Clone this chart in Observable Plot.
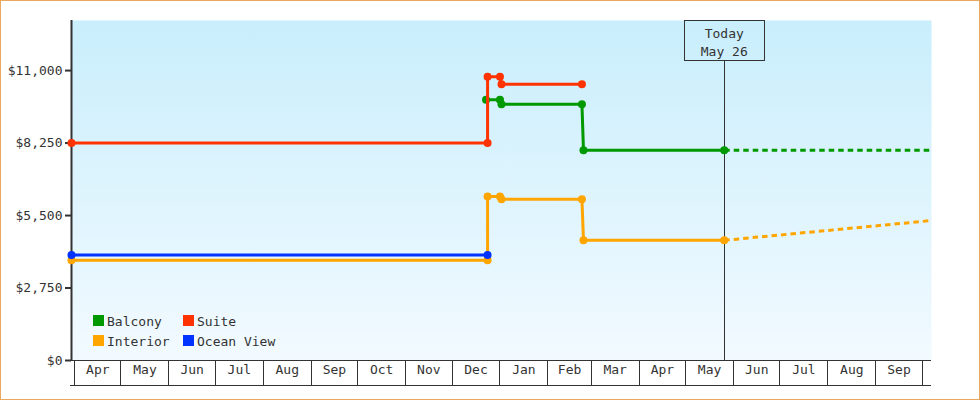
<!DOCTYPE html>
<html>
<head>
<meta charset="utf-8">
<script src="https://cdn.jsdelivr.net/npm/d3@7"></script>
<script src="https://cdn.jsdelivr.net/npm/@observablehq/plot@0.6"></script>
<style>
  body { margin: 0; background: #fff; }
  #wrap { position: relative; width: 980px; height: 400px; font-family: "DejaVu Sans Mono", monospace; color: #333; }
  #border { position: absolute; left: 0; top: 0; width: 980px; height: 400px; box-sizing: border-box; border: 1px solid #e8a860; pointer-events: none; }
  .item { position: absolute; height: 13px; font-size: 13px; line-height: 13px; white-space: nowrap; }
  .sw { position: absolute; left: 0; top: 0; width: 11px; height: 11px; }
  .lab { position: absolute; left: 14px; top: 0; }
  #chart svg { display: block; }
</style>
</head>
<body>
<div id="wrap"><div id="chart"></div><div id="legend"></div><div id="border"></div></div>
<script>
// ---- data ----
const seriesNames = ["Balcony", "Suite", "Interior", "Ocean View"];
const seriesColors = ["#009900", "#ff3300", "#ffa500", "#0033ff"];

const balconyDates  = ["2022-12-23", "2023-01-01", "2023-01-02", "2023-02-23", "2023-02-24", "2023-05-26"];
const balconyPrices = [9890, 9890, 9720, 9720, 7980, 7980];

const suiteDates  = ["2022-03-30", "2022-12-24", "2022-12-24", "2023-01-01", "2023-01-02", "2023-02-23"];
const suitePrices = [8250, 8250, 10770, 10770, 10480, 10480];

const interiorDates  = ["2022-03-30", "2022-12-24", "2022-12-24", "2023-01-01", "2023-01-02", "2023-02-23", "2023-02-24", "2023-05-26"];
const interiorPrices = [3800, 3800, 6220, 6220, 6120, 6120, 4560, 4560];

const oceanDates  = ["2022-03-30", "2022-12-24"];
const oceanPrices = [4000, 4000];

// projections (dashed)
const balconyProjDates  = ["2023-05-26", "2023-10-07"];
const balconyProjPrices = [7980, 7980];
const interiorProjDates  = ["2023-05-26", "2023-10-07"];
const interiorProjPrices = [4560, 5310];

const yTicks = [0, 2750, 5500, 8250, 11000];
const monthLabels = ["Apr","May","Jun","Jul","Aug","Sep","Oct","Nov","Dec","Jan","Feb","Mar","Apr","May","Jun","Jul","Aug","Sep"];
const axisStart = "2022-04-01";
const xDomain = ["2022-03-30", "2023-10-07"];
const yMax = 12900;
const todayDate = "2023-05-26";

// ---- layout ----
const W = 980, H = 400;
const mL = 71, mR = 49, mT = 20, mB = 40;
const axisBand = 25;

const rows = (dates, prices) => dates.map((d, i) => ({date: new Date(d), price: prices[i]}));
const balcony = rows(balconyDates, balconyPrices);
const suite = rows(suiteDates, suitePrices);
const interior = rows(interiorDates, interiorPrices);
const ocean = rows(oceanDates, oceanPrices);
const balconyProj = rows(balconyProjDates, balconyProjPrices);
const interiorProj = rows(interiorProjDates, interiorProjPrices);
const today = new Date(todayDate);

const start = new Date(axisStart);
const monthStarts = d3.utcMonth.range(start, d3.utcMonth.offset(start, monthLabels.length + 1));
const monthCells = monthLabels.map((label, i) => ({label, mid: new Date((+monthStarts[i] + +monthStarts[i + 1]) / 2)}));

const col = name => seriesColors[seriesNames.indexOf(name)];
const series = [
  ["Balcony", balcony],
  ["Interior", interior],
  ["Ocean View", ocean],
  ["Suite", suite]
];

const marks = [
  Plot.frame({fill: "#cbeffc"}),
  Plot.ruleX([today], {x: d => d, stroke: "#333", strokeWidth: 1, shapeRendering: "crispEdges"}),
  Plot.ruleY([0], {stroke: "#333", strokeWidth: 1, shapeRendering: "crispEdges"}),
  Plot.axisX(monthStarts, {tickSize: axisBand, tickFormat: () => "", stroke: "#333", label: null, shapeRendering: "crispEdges"}),
  Plot.text(monthCells, {x: "mid", text: "label", frameAnchor: "bottom", dy: 13, fill: "#333", fontSize: 13}),
  Plot.axisY(yTicks, {tickSize: 6, tickPadding: 3, strokeWidth: 2, stroke: "#333", fill: "#333", fontSize: 13,
    tickFormat: d => "$" + d3.format(",")(d), label: null}),
  Plot.ruleX([new Date(xDomain[0])], {x: d => d, stroke: "#333", strokeWidth: 2})
];

marks.push(
  Plot.line(balconyProj, {x: "date", y: "price", stroke: col("Balcony"), strokeWidth: 3, strokeDasharray: "5.5,4", strokeLinecap: "butt"}),
  Plot.line(interiorProj, {x: "date", y: "price", stroke: col("Interior"), strokeWidth: 3, strokeDasharray: "5.5,4", strokeLinecap: "butt"})
);
for (const [name, data] of series) {
  marks.push(Plot.line(data, {x: "date", y: "price", stroke: col(name), strokeWidth: 3}));
  marks.push(Plot.dot(data, {x: "date", y: "price", fill: col(name), r: 4}));
}
const fmt = d3.utcFormat("%b %-d");
marks.push(Plot.text([today], {x: d => d, frameAnchor: "top", text: d => "Today\n" + fmt(d),
  lineAnchor: "top", dy: 4.4, lineHeight: 18 / 13, fill: "#333", fontSize: 13}));

const chart = Plot.plot({
  width: W, height: H,
  marginLeft: mL, marginRight: mR, marginTop: mT, marginBottom: mB,
  style: {fontFamily: '"DejaVu Sans Mono", monospace', fontSize: "13px", color: "#333", background: "transparent"},
  x: {type: "utc", domain: xDomain.map(d => new Date(d)), axis: null, label: null},
  y: {domain: [0, yMax], axis: null, label: null},
  marks
});

const svg = d3.select(chart);
const defs = svg.insert("defs", ":first-child");
const grad = defs.append("linearGradient").attr("id", "bgGrad")
  .attr("gradientUnits", "userSpaceOnUse").attr("x1", 0).attr("x2", 0).attr("y1", mT).attr("y2", H - mB);
grad.append("stop").attr("offset", 0).attr("stop-color", "#c9eefc");
grad.append("stop").attr("offset", 1).attr("stop-color", "#f2faff");
svg.selectAll("rect").filter(function () { return (this.getAttribute("fill") || "").toLowerCase() === "#cbeffc"; })
  .attr("fill", "url(#bgGrad)");

// bottom line of month band
svg.append("line").attr("x1", mL - 1).attr("x2", W - mR)
  .attr("y1", H - mB + axisBand + 0.5).attr("y2", H - mB + axisBand + 0.5)
  .attr("stroke", "#333").attr("stroke-width", 1);

// today box
const cx = chart.scale("x").apply(today);
svg.append("rect").attr("x", Math.round(cx) - 40 + 0.5).attr("y", mT + 0.5).attr("width", 80).attr("height", 40)
  .attr("fill", "url(#bgGrad)").attr("stroke", "#333").attr("stroke-width", 1);
const todayText = svg.selectAll("text").filter(function () { return this.textContent.startsWith("Today"); }).node();
if (todayText) {
  const g = todayText.closest("g") || todayText;
  chart.appendChild(g);
}

document.getElementById("chart").appendChild(chart);

// legend (inside plot area)
const legendOrder = ["Balcony", "Suite", "Interior", "Ocean View"];
const legend = document.getElementById("legend");
legendOrder.forEach((name, i) => {
  const c = i % 2, r = Math.floor(i / 2);
  const item = document.createElement("div");
  item.className = "item";
  item.style.left = (93 + c * 90) + "px";
  item.style.top = (315 + r * 20) + "px";
  item.innerHTML = `<div class="sw" style="background:${col(name)}"></div><div class="lab">${name}</div>`;
  legend.appendChild(item);
});
</script>
</body>
</html>
